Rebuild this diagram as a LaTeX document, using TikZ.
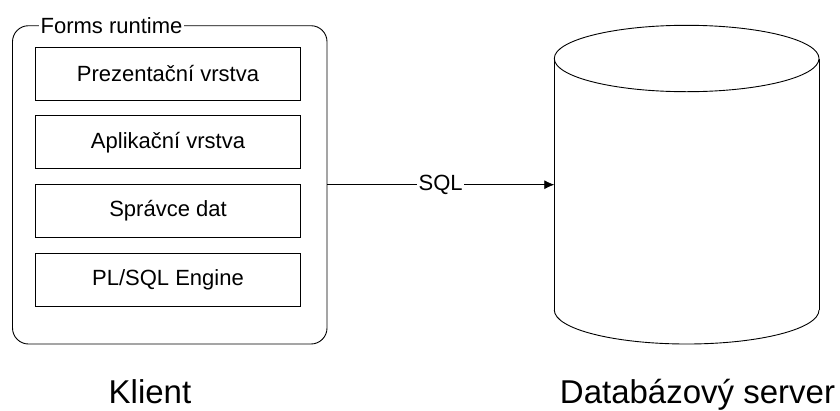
\documentclass[tikz,border=0pt]{standalone}
\usepackage{fontspec}
\setmainfont{Liberation Sans}
\usetikzlibrary{arrows.meta}
\begin{document}
\begin{tikzpicture}[x=1pt,y=-1pt,every node/.style={inner sep=0pt,outer sep=0pt},
  layerbox/.style={draw=black,line width=0.9pt,minimum width=264.5pt,minimum height=53pt,font=\fontsize{22}{26}\selectfont,anchor=center},
  biglabel/.style={font=\fontsize{33}{38}\selectfont,anchor=base},
  line/.style={line width=0.9pt,draw=black}]
\useasboundingbox (0,0) rectangle (840,410);
\draw[line,rounded corners=16pt] (12.5,25.7) rectangle (327,344);
\node[fill=white,inner xsep=1.5pt,font=\fontsize{22}{26}\selectfont] (rt) at (111.5,26) {Forms runtime};
\coordinate (rtr) at (327,184.7);
\node[layerbox] (a) at (168,73.5) {Prezentační vrstva};
\node[layerbox] (b) at (168,142.2) {Aplikační vrstva};
\node[layerbox] (c) at (168,211) {Správce dat};
\node[layerbox] (d) at (168,279.5) {PL/SQL Engine};
% cylinder
\draw[line] (554.3,58.5) -- (554.3,310);
\draw[line] (819,58.5) -- (819,310);
\draw[line] (686.65,58.5) ellipse (132.35 and 33.2);
\draw[line] (554.3,310) .. controls (554.3,328.8) and (613.6,344) .. (686.65,344) .. controls (759.7,344) and (819,328.8) .. (819,310);
\coordinate (dbl) at (554.3,184.7);
\draw[line width=0.7pt,-{Latex[length=10pt,width=9pt]}] (rtr) -- (dbl) node[pos=0.5,fill=white,inner xsep=1.5pt,font=\fontsize{22}{26}\selectfont] (sql) {SQL};
\node[biglabel] (k) at (150,403) {Klient};
\node[biglabel] (s) at (697.5,403) {Databázový server};
\end{tikzpicture}
\end{document}
